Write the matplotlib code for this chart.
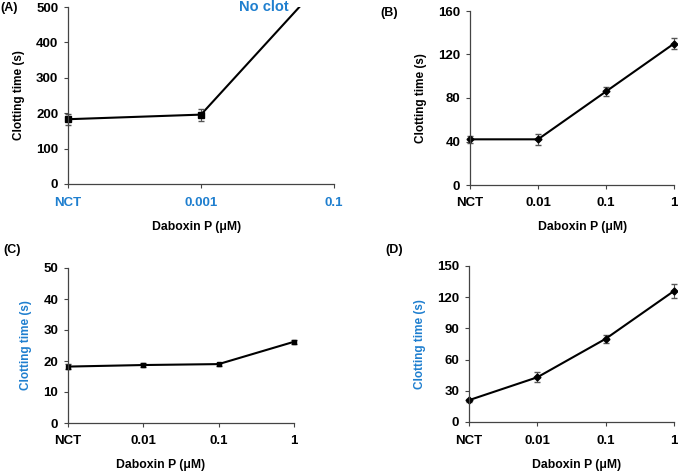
import numpy as np
import matplotlib
matplotlib.use('Agg')
import matplotlib.pyplot as plt

plt.rcParams['font.family'] = ['Liberation Sans', 'DejaVu Sans']
plt.rcParams['font.weight'] = 'bold'

blue = '#1f7fcf'

# panel A
cats_a = ['NCT', '0.001', '0.1']
vals_a = [183, 196, 607]     # last point: no clot, runs off the top
err_a = [15, 17]
# panel B
cats_b = ['NCT', '0.01', '0.1', '1']
vals_b = [42, 42, 86, 130]
err_b = [3, 5, 4, 5]
# panel C
cats_c = ['NCT', '0.01', '0.1', '1']
vals_c = [18.2, 18.7, 19.0, 26.2]
err_c = [0.8, 0.7, 0.5, 0.7]
# panel D
cats_d = ['NCT', '0.01', '0.1', '1']
vals_d = [21, 43, 80, 126]
err_d = [1.5, 5, 4, 7]

W, H = 678, 471
fig = plt.figure(figsize=(W / 100, H / 100), dpi=100)


def px_axes(left, top, right, bottom):
    return fig.add_axes([left / W, 1 - bottom / H, (right - left) / W, (bottom - top) / H])


def style(ax, cats, ymax, step, xlab_pos, ylab_color='black', xtick_color='black'):
    for s in ['top', 'right']:
        ax.spines[s].set_visible(False)
    for s in ['left', 'bottom']:
        ax.spines[s].set_color('#444444')
        ax.spines[s].set_linewidth(0.9)
    ax.set_xlim(0, len(cats) - 1)
    ax.set_ylim(0, ymax)
    ax.set_xticks(range(len(cats)))
    ax.set_xticklabels(cats, color=xtick_color)
    ax.set_yticks(np.arange(0, ymax + 1, step))
    ax.tick_params(direction='out', length=3, width=0.8, color='#444444', labelsize=9.5, pad=4)
    ax.tick_params(axis='x', pad=6)
    for t in ax.get_xticklabels() + ax.get_yticklabels():
        t.set_fontweight('bold')
    ax.set_xlabel('Daboxin P (μM)', fontsize=8.8, fontweight='bold', va='center')
    ax.xaxis.set_label_coords(*xlab_pos)
    ax.set_ylabel('Clotting time (s)', fontsize=8.5, fontweight='bold', color=ylab_color, labelpad=8)


# A
axA = px_axes(68, 7, 334, 184)
xa = np.arange(len(vals_a))
axA.plot(xa, vals_a, color='black', lw=1.5)
axA.errorbar(xa[:2], vals_a[:2], yerr=err_a, fmt='s', color='black', ms=4,
             ecolor='#555555', elinewidth=0.8, capsize=2.5, clip_on=False)
style(axA, cats_a, 500, 100, (0.485, -0.243), xtick_color=blue)
axA.text(1.47, 500, 'No clot', color=blue, fontsize=10.5, fontweight='bold', ha='center', va='center')
fig.text(0.001, 1 - 8 / H, '(A)', fontsize=9, fontweight='bold', va='center')

# B
axB = px_axes(470, 11, 674, 185)
xb = np.arange(len(vals_b))
axB.errorbar(xb, vals_b, yerr=err_b, fmt='-D', color='black', lw=1.5, ms=3.5,
             ecolor='#555555', elinewidth=0.8, capsize=2.5, clip_on=False)
style(axB, cats_b, 160, 40, (0.55, -0.241))
fig.text(380 / W, 1 - 13 / H, '(B)', fontsize=9, fontweight='bold', va='center')

# C
axC = px_axes(68, 268, 294, 423)
xc = np.arange(len(vals_c))
axC.errorbar(xc, vals_c, yerr=err_c, fmt='-s', color='black', lw=1.5, ms=3.5,
             ecolor='#333333', elinewidth=0.8, capsize=2.5, clip_on=False)
style(axC, cats_c, 50, 10, (0.41, -0.271), ylab_color=blue)
fig.text(3 / W, 1 - 250 / H, '(C)', fontsize=9, fontweight='bold', va='center')

# D
axD = px_axes(469, 266, 674, 422)
xd = np.arange(len(vals_d))
axD.errorbar(xd, vals_d, yerr=err_d, fmt='-D', color='black', lw=1.5, ms=3.5,
             ecolor='#555555', elinewidth=0.8, capsize=2.5, clip_on=False)
style(axD, cats_d, 150, 30, (0.527, -0.276), ylab_color=blue)
fig.text(385 / W, 1 - 250 / H, '(D)', fontsize=9, fontweight='bold', va='center')

fig.savefig('out.png', dpi=100)
